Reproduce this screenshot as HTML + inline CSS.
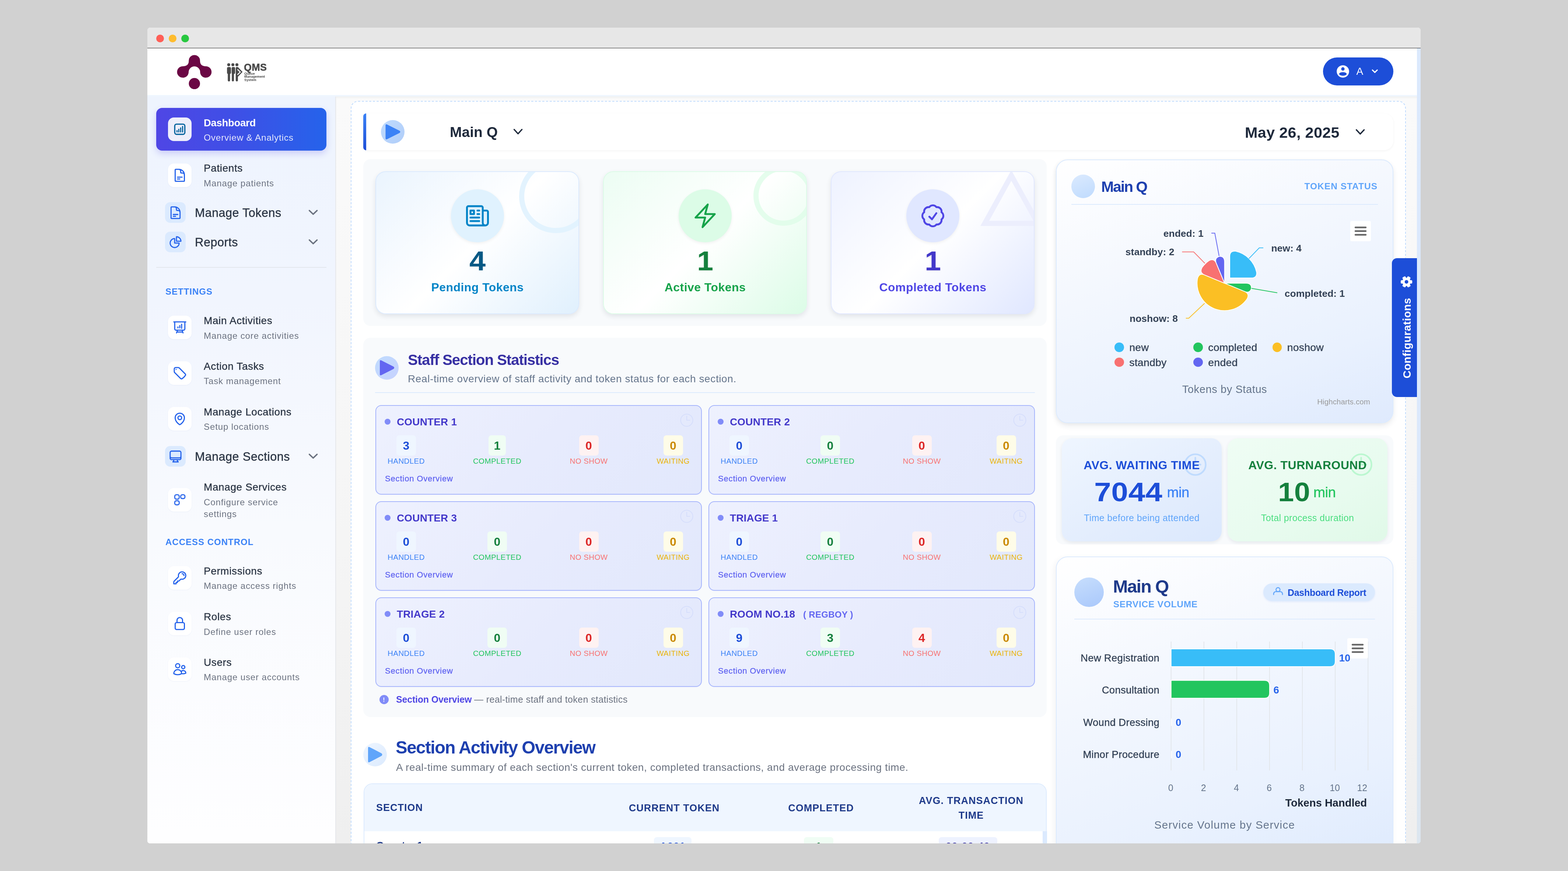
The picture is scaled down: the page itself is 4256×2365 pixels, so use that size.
<!DOCTYPE html>
<html><head><meta charset="utf-8"><title>QMS Dashboard</title>
<style>
html,body{margin:0;padding:0;}
body{width:4256px;height:2365px;overflow:hidden;background:#d1d1d1;position:relative;font-family:"Liberation Sans", Arial, sans-serif;}
.a{position:absolute;}
.t{position:absolute;white-space:nowrap;}
#clip{position:absolute;left:400px;top:75px;width:3456px;height:2215px;overflow:hidden;border-radius:7px;}
#inner{position:absolute;left:-400px;top:-75px;width:4256px;height:2365px;}
</style></head><body>
<div id="clip"><div id="inner">
<div class="a" style="left:400px;top:75px;width:3456px;height:2215px;background:#fff;border-radius:7px;overflow:hidden;"></div>
<div class="a" style="left:400px;top:75px;width:3456px;height:54px;background:#e7e7e7;border-radius:7px 7px 0 0;"></div>
<div class="a" style="left:400px;top:129px;width:3456px;height:1px;background:#f4f4f4;"></div>
<div class="a" style="left:400px;top:130px;width:3456px;height:1px;background:#0a0a0a;"></div>
<div class="a" style="left:424.1px;top:93.5px;width:21px;height:21px;background:#ff5f57;border-radius:50%;"></div>
<div class="a" style="left:458.2px;top:93.5px;width:21px;height:21px;background:#febc2e;border-radius:50%;"></div>
<div class="a" style="left:492.2px;top:93.5px;width:21px;height:21px;background:#28c840;border-radius:50%;"></div>
<svg class="a" style="left:470px;top:140px;" width="110" height="105" viewBox="470 140 110 105"><g fill="#6b0744"><circle cx="527.7" cy="164.6" r="15.2"/><circle cx="496" cy="195.4" r="15.4"/><circle cx="558.8" cy="195.4" r="15.4"/><circle cx="527.7" cy="226.9" r="15.2"/><path d="M512.5 164.6 C512.5 176 506 180 496 180 L496 210.8 C505 210.8 511.5 205 512 196 A15.6 15.6 0 0 1 543.4 196 C544 205 550 210.8 558.8 210.8 L558.8 180 C549 180 542.9 176 542.9 164.6 Z"/></g></svg>
<svg class="a" style="left:612px;top:168px;" width="50" height="58" viewBox="612 168 50 58"><g fill="#4a4a4a"><circle cx="620.8" cy="175.8" r="4.1"/><circle cx="632.1" cy="175.8" r="4.1"/><circle cx="643" cy="175.8" r="4.1"/><rect x="616.2" y="181.9" width="10.7" height="19" rx="3.6"/><rect x="618.3" y="196" width="6.2" height="25" rx="3.1"/><rect x="628.7" y="181.9" width="9.4" height="19" rx="3.4"/><rect x="629.2" y="196" width="5.8" height="25" rx="2.9"/><rect x="639.8" y="181.9" width="6" height="39.1" rx="3"/><path d="M641 181.9 h4.8 l12.5 13.3 l-12.5 13.2 h-4.8 z"/></g><path d="M644.6 188.4 l7.6 7.2 l-7.6 7.4" fill="none" stroke="#fff" stroke-width="2.6"/></svg>
<div class="t" style="left:662.0px;top:170.3px;font-size:27px;line-height:27px;color:#4a4a4a;font-weight:700;letter-spacing:0.3px;-webkit-text-stroke:0.6px #4a4a4a;">QMS</div>
<div class="t" style="left:663.0px;top:195.6px;font-size:9.2px;line-height:9.2px;color:#4a4a4a;font-weight:700;">Queue</div>
<div class="t" style="left:663.0px;top:204.2px;font-size:9.2px;line-height:9.2px;color:#4a4a4a;font-weight:700;">Management</div>
<div class="t" style="left:663.0px;top:212.8px;font-size:9.2px;line-height:9.2px;color:#4a4a4a;font-weight:700;">System</div>
<div class="a" style="left:3591px;top:156px;width:191px;height:76px;background:#1d4ed8;border-radius:38px;"></div>
<svg class="a" style="left:3625px;top:174px;" width="40" height="40" viewBox="3625 174 40 40"><circle cx="3645" cy="194" r="16.8" fill="#fff"/><circle cx="3645" cy="187.2" r="4.6" fill="#1d4ed8"/><ellipse cx="3645" cy="200.8" rx="10.2" ry="4.9" fill="#1d4ed8"/></svg>
<div class="t" style="left:3681.5px;top:180.3px;font-size:28px;line-height:28px;color:#fff;font-weight:400;">A</div>
<svg class="a" style="left:3722.3px;top:187.3px;" width="19.4" height="12.700000000000012" viewBox="3722.3 187.3 19.4 12.700000000000012"><polyline points="3725.5,190.5 3732.0,196.8 3738.5,190.5" fill="none" stroke="#fff" stroke-width="3.2" stroke-linecap="round" stroke-linejoin="round"/></svg>
<div class="a" style="left:400px;top:258px;width:510px;height:2032px;background:linear-gradient(180deg,#eef4fe 0%,#f1f5fe 27%,#f8fafe 58%,#fefeff 100%);"></div>
<div class="a" style="left:910px;top:261px;width:2px;height:2029px;background:#e6e8ec;"></div>
<div class="a" style="left:400px;top:258px;width:3446px;height:4px;background:#eff6ff;"></div>
<div class="a" style="left:424px;top:293px;width:462px;height:116px;background:linear-gradient(90deg,#4f46e5 0%,#3f4fe6 45%,#2563eb 100%);border-radius:16px;box-shadow:0 8px 18px rgba(79,70,229,0.22);"></div>
<div class="a" style="left:456px;top:319px;width:64px;height:64px;background:#eeeefb;border-radius:16px;"></div>
<svg class="a" style="left:468px;top:331px;" width="40" height="40" viewBox="468 331 40 40"><rect x="474.3" y="337.1" width="27.4" height="27.7" rx="5" fill="none" stroke="#0b66a0" stroke-width="3.4"/><g stroke="#0b66a0" stroke-width="3.1" stroke-linecap="round"><line x1="480.5" y1="354.5" x2="480.5" y2="358.2"/><line x1="485.3" y1="351" x2="485.3" y2="358.2"/><line x1="490.4" y1="347.3" x2="490.4" y2="358.2"/><line x1="495.6" y1="343.4" x2="495.6" y2="358.2"/></g></svg>
<div class="t" style="left:553.0px;top:319.7px;font-size:27.5px;line-height:27.5px;color:#ffffff;font-weight:700;letter-spacing:-0.3px;">Dashboard</div>
<div class="t" style="left:553.0px;top:361.7px;font-size:24.5px;line-height:24.5px;color:rgba(255,255,255,0.86);font-weight:400;letter-spacing:0.75px;">Overview &amp; Analytics</div>
<div class="a" style="left:456px;top:443.6px;width:64px;height:64px;background:#fff;border-radius:16px;box-shadow:0 1px 3px rgba(30,64,175,0.06);"></div>
<svg class="a" style="left:468.0px;top:455.6px" width="40" height="40" viewBox="0 0 24 24" fill="none" stroke="#2563eb" stroke-width="1.85" stroke-linecap="round" stroke-linejoin="round"><path d="M19.5 14.25v-2.625a3.375 3.375 0 0 0-3.375-3.375h-1.5A1.125 1.125 0 0 1 13.5 7.125v-1.5a3.375 3.375 0 0 0-3.375-3.375H8.25m0 12.75h7.5m-7.5 3H12M10.5 2.25H5.625c-.621 0-1.125.504-1.125 1.125v17.25c0 .621.504 1.125 1.125 1.125h12.75c.621 0 1.125-.504 1.125-1.125V11.25a9 9 0 0 0-9-9Z"/></svg>
<div class="t" style="left:553.0px;top:443.4px;font-size:28px;line-height:28px;color:#2b3544;font-weight:400;letter-spacing:0.6px;-webkit-text-stroke:0.45px currentColor;">Patients</div>
<div class="t" style="left:553.0px;top:486.0px;font-size:24px;line-height:24px;color:#6b7280;font-weight:400;letter-spacing:0.9px;">Manage patients</div>
<div class="a" style="left:448px;top:549px;width:56px;height:56px;background:#dbeafe;border-radius:14px;"></div>
<svg class="a" style="left:456.5px;top:557.5px" width="39" height="39" viewBox="0 0 24 24" fill="none" stroke="#2563eb" stroke-width="1.85" stroke-linecap="round" stroke-linejoin="round"><path d="M19.5 14.25v-2.625a3.375 3.375 0 0 0-3.375-3.375h-1.5A1.125 1.125 0 0 1 13.5 7.125v-1.5a3.375 3.375 0 0 0-3.375-3.375H8.25m0 12.75h7.5m-7.5 3H12M10.5 2.25H5.625c-.621 0-1.125.504-1.125 1.125v17.25c0 .621.504 1.125 1.125 1.125h12.75c.621 0 1.125-.504 1.125-1.125V11.25a9 9 0 0 0-9-9Z"/></svg>
<div class="t" style="left:529.0px;top:562.1px;font-size:32.5px;line-height:32.5px;color:#2b3544;font-weight:400;letter-spacing:0.45px;-webkit-text-stroke:0.45px currentColor;">Manage Tokens</div>
<svg class="a" style="left:835.9px;top:568.4px;" width="28.2" height="17.2" viewBox="835.9 568.4 28.2 17.2"><polyline points="839.5,572 850.0,582 860.5,572" fill="none" stroke="#6b7280" stroke-width="3.6" stroke-linecap="round" stroke-linejoin="round"/></svg>
<div class="a" style="left:448px;top:629px;width:56px;height:56px;background:#dbeafe;border-radius:14px;"></div>
<svg class="a" style="left:456.5px;top:637.5px" width="39" height="39" viewBox="0 0 24 24" fill="none" stroke="#2563eb" stroke-width="1.85" stroke-linecap="round" stroke-linejoin="round"><path d="M10.5 6a7.5 7.5 0 1 0 7.5 7.5h-7.5V6Z"/><path d="M13.5 10.5H21A7.5 7.5 0 0 0 13.5 3v7.5Z"/></svg>
<div class="t" style="left:529.0px;top:642.1px;font-size:32.5px;line-height:32.5px;color:#2b3544;font-weight:400;letter-spacing:0.45px;-webkit-text-stroke:0.45px currentColor;">Reports</div>
<svg class="a" style="left:835.9px;top:648.4px;" width="28.2" height="17.2" viewBox="835.9 648.4 28.2 17.2"><polyline points="839.5,652 850.0,662 860.5,652" fill="none" stroke="#6b7280" stroke-width="3.6" stroke-linecap="round" stroke-linejoin="round"/></svg>
<div class="a" style="left:424px;top:725px;width:462px;height:2px;background:#e2e6ec;"></div>
<div class="t" style="left:449.0px;top:780.2px;font-size:24px;line-height:24px;color:#3b82f6;font-weight:700;letter-spacing:1.0px;">SETTINGS</div>
<div class="a" style="left:456px;top:857.4px;width:64px;height:64px;background:#fff;border-radius:16px;box-shadow:0 1px 3px rgba(30,64,175,0.06);"></div>
<svg class="a" style="left:468.0px;top:869.4px" width="40" height="40" viewBox="0 0 24 24" fill="none" stroke="#2563eb" stroke-width="1.85" stroke-linecap="round" stroke-linejoin="round"><path d="M3.75 3v11.25A2.25 2.25 0 0 0 6 16.5h2.25M3.75 3h-1.5m1.5 0h16.5m0 0h1.5m-1.5 0v11.25A2.25 2.25 0 0 1 18 16.5h-2.25m-7.5 0h7.5m-7.5 0-1 3m8.5-3 1 3m0 0 .5 1.5m-.5-1.5h-9.5m0 0-.5 1.5M9 11.25v1.5M12 9v3.75m3-6v6.75"/></svg>
<div class="t" style="left:553.0px;top:857.2px;font-size:28px;line-height:28px;color:#2b3544;font-weight:400;letter-spacing:0.6px;-webkit-text-stroke:0.45px currentColor;">Main Activities</div>
<div class="t" style="left:553.0px;top:899.8px;font-size:24px;line-height:24px;color:#6b7280;font-weight:400;letter-spacing:0.9px;">Manage core activities</div>
<div class="a" style="left:456px;top:981px;width:64px;height:64px;background:#fff;border-radius:16px;box-shadow:0 1px 3px rgba(30,64,175,0.06);"></div>
<svg class="a" style="left:468.0px;top:993.0px" width="40" height="40" viewBox="0 0 24 24" fill="none" stroke="#2563eb" stroke-width="1.85" stroke-linecap="round" stroke-linejoin="round"><path d="M9.568 3H5.25A2.25 2.25 0 0 0 3 5.25v4.318c0 .597.237 1.17.659 1.591l9.581 9.581c.699.699 1.78.872 2.607.33a18.095 18.095 0 0 0 5.223-5.223c.542-.827.369-1.908-.33-2.607L11.16 3.66A2.25 2.25 0 0 0 9.568 3Z"/><path d="M6 6h.008v.008H6V6Z"/></svg>
<div class="t" style="left:553.0px;top:980.8px;font-size:28px;line-height:28px;color:#2b3544;font-weight:400;letter-spacing:0.6px;-webkit-text-stroke:0.45px currentColor;">Action Tasks</div>
<div class="t" style="left:553.0px;top:1023.4px;font-size:24px;line-height:24px;color:#6b7280;font-weight:400;letter-spacing:0.9px;">Task management</div>
<div class="a" style="left:456px;top:1105px;width:64px;height:64px;background:#fff;border-radius:16px;box-shadow:0 1px 3px rgba(30,64,175,0.06);"></div>
<svg class="a" style="left:468.0px;top:1117.0px" width="40" height="40" viewBox="0 0 24 24" fill="none" stroke="#2563eb" stroke-width="1.85" stroke-linecap="round" stroke-linejoin="round"><path d="M15 10.5a3 3 0 1 1-6 0 3 3 0 0 1 6 0Z"/><path d="M19.5 10.5c0 7.142-7.5 11.25-7.5 11.25S4.5 17.642 4.5 10.5a7.5 7.5 0 1 1 15 0Z"/></svg>
<div class="t" style="left:553.0px;top:1104.8px;font-size:28px;line-height:28px;color:#2b3544;font-weight:400;letter-spacing:0.6px;-webkit-text-stroke:0.45px currentColor;">Manage Locations</div>
<div class="t" style="left:553.0px;top:1147.4px;font-size:24px;line-height:24px;color:#6b7280;font-weight:400;letter-spacing:0.9px;">Setup locations</div>
<div class="a" style="left:448px;top:1211px;width:56px;height:56px;background:#dbeafe;border-radius:14px;"></div>
<svg class="a" style="left:456.5px;top:1219.5px" width="39" height="39" viewBox="0 0 24 24" fill="none" stroke="#2563eb" stroke-width="1.85" stroke-linecap="round" stroke-linejoin="round"><path d="M9 17.25v1.007a3 3 0 0 1-.879 2.122L7.5 21h9l-.621-.621A3 3 0 0 1 15 18.257V17.25m6-12V15a2.25 2.25 0 0 1-2.25 2.25H5.25A2.25 2.25 0 0 1 3 15V5.25m18 0A2.25 2.25 0 0 0 18.75 3H5.25A2.25 2.25 0 0 0 3 5.25m18 0V12a2.25 2.25 0 0 1-2.25 2.25H5.25A2.25 2.25 0 0 1 3 12V5.25"/></svg>
<div class="t" style="left:529.0px;top:1224.1px;font-size:32.5px;line-height:32.5px;color:#2b3544;font-weight:400;letter-spacing:0.45px;-webkit-text-stroke:0.45px currentColor;">Manage Sections</div>
<svg class="a" style="left:835.9px;top:1230.4px;" width="28.2" height="17.2" viewBox="835.9 1230.4 28.2 17.2"><polyline points="839.5,1234 850.0,1244 860.5,1234" fill="none" stroke="#6b7280" stroke-width="3.6" stroke-linecap="round" stroke-linejoin="round"/></svg>
<div class="a" style="left:456px;top:1325px;width:64px;height:64px;background:#fff;border-radius:16px;box-shadow:0 1px 3px rgba(30,64,175,0.06);"></div>
<svg class="a" style="left:466px;top:1335px;" width="44" height="44" viewBox="466 1335 44 44"><g fill="none" stroke="#2563eb" stroke-width="2.9"><rect x="474.4" y="1343.4" width="11.9" height="11.9" rx="4"/><rect x="490.6" y="1343.4" width="11.3" height="10.4" rx="4"/><rect x="474.4" y="1359.7" width="11.9" height="11" rx="4"/></g></svg>
<div class="t" style="left:553.0px;top:1309.1px;font-size:28px;line-height:28px;color:#2b3544;font-weight:400;letter-spacing:0.6px;-webkit-text-stroke:0.45px currentColor;">Manage Services</div>
<div class="t" style="left:553.0px;top:1351.7px;font-size:24px;line-height:24px;color:#6b7280;font-weight:400;letter-spacing:0.9px;">Configure service</div>
<div class="t" style="left:553.0px;top:1384.1px;font-size:24px;line-height:24px;color:#6b7280;font-weight:400;letter-spacing:0.9px;">settings</div>
<div class="t" style="left:449.0px;top:1460.1px;font-size:24px;line-height:24px;color:#3b82f6;font-weight:700;letter-spacing:1.0px;">ACCESS CONTROL</div>
<div class="a" style="left:456px;top:1537px;width:64px;height:64px;background:#fff;border-radius:16px;box-shadow:0 1px 3px rgba(30,64,175,0.06);"></div>
<svg class="a" style="left:468.0px;top:1549.0px" width="40" height="40" viewBox="0 0 24 24" fill="none" stroke="#2563eb" stroke-width="1.85" stroke-linecap="round" stroke-linejoin="round"><path d="M15.75 5.25a3 3 0 0 1 3 3m3 0a6 6 0 0 1-7.029 5.912c-.563-.097-1.159.026-1.563.43L10.5 17.25H8.25v2.25H6v2.25H2.25v-2.818c0-.597.237-1.17.659-1.591l6.499-6.499c.404-.404.527-1 .43-1.563A6 6 0 1 1 21.75 8.25Z"/></svg>
<div class="t" style="left:553.0px;top:1536.8px;font-size:28px;line-height:28px;color:#2b3544;font-weight:400;letter-spacing:0.6px;-webkit-text-stroke:0.45px currentColor;">Permissions</div>
<div class="t" style="left:553.0px;top:1579.4px;font-size:24px;line-height:24px;color:#6b7280;font-weight:400;letter-spacing:0.9px;">Manage access rights</div>
<div class="a" style="left:456px;top:1661.4px;width:64px;height:64px;background:#fff;border-radius:16px;box-shadow:0 1px 3px rgba(30,64,175,0.06);"></div>
<svg class="a" style="left:468.0px;top:1673.4px" width="40" height="40" viewBox="0 0 24 24" fill="none" stroke="#2563eb" stroke-width="1.85" stroke-linecap="round" stroke-linejoin="round"><path d="M16.5 10.5V6.75a4.5 4.5 0 1 0-9 0v3.75m-.75 11.25h10.5a2.25 2.25 0 0 0 2.25-2.25v-6.75a2.25 2.25 0 0 0-2.25-2.25H6.75a2.25 2.25 0 0 0-2.25 2.25v6.75a2.25 2.25 0 0 0 2.25 2.25Z"/></svg>
<div class="t" style="left:553.0px;top:1661.2px;font-size:28px;line-height:28px;color:#2b3544;font-weight:400;letter-spacing:0.6px;-webkit-text-stroke:0.45px currentColor;">Roles</div>
<div class="t" style="left:553.0px;top:1703.8px;font-size:24px;line-height:24px;color:#6b7280;font-weight:400;letter-spacing:0.9px;">Define user roles</div>
<div class="a" style="left:456px;top:1785px;width:64px;height:64px;background:#fff;border-radius:16px;box-shadow:0 1px 3px rgba(30,64,175,0.06);"></div>
<svg class="a" style="left:468.0px;top:1797.0px" width="40" height="40" viewBox="0 0 24 24" fill="none" stroke="#2563eb" stroke-width="1.85" stroke-linecap="round" stroke-linejoin="round"><path d="M15 19.128a9.38 9.38 0 0 0 2.625.372 9.337 9.337 0 0 0 4.121-.952 4.125 4.125 0 0 0-7.533-2.493M15 19.128v-.003c0-1.113-.285-2.16-.786-3.07M15 19.128v.106A12.318 12.318 0 0 1 8.624 21c-2.331 0-4.512-.645-6.374-1.766l-.001-.109a6.375 6.375 0 0 1 11.964-3.07M12 6.375a3.375 3.375 0 1 1-6.75 0 3.375 3.375 0 0 1 6.75 0Zm8.25 2.25a2.625 2.625 0 1 1-5.25 0 2.625 2.625 0 0 1 5.25 0Z"/></svg>
<div class="t" style="left:553.0px;top:1784.8px;font-size:28px;line-height:28px;color:#2b3544;font-weight:400;letter-spacing:0.6px;-webkit-text-stroke:0.45px currentColor;">Users</div>
<div class="t" style="left:553.0px;top:1827.4px;font-size:24px;line-height:24px;color:#6b7280;font-weight:400;letter-spacing:0.9px;">Manage user accounts</div>
<div class="a" style="left:912px;top:262px;width:2934px;height:2028px;background:linear-gradient(180deg,#fafafa 0%,#f5f5f5 60%,#efefef 100%);box-shadow:inset 0 5px 6px -3px rgba(0,0,0,0.06);"></div>
<div class="a" style="left:3846px;top:131px;width:10px;height:2159px;background:linear-gradient(180deg,#dbe9fd 0%,#dbe8fb 70%,#dce6ef 100%);"></div>
<div class="a" style="left:952px;top:274px;width:2864px;height:2100px;background:#fff;border:2px dashed #bfdbfe;border-radius:20px;box-sizing:border-box;"></div>
<div class="a" style="left:986px;top:308px;width:2796px;height:100px;border-radius:10px 26px 26px 10px;background:#fff;box-shadow:0 2px 6px rgba(0,0,0,0.05);"></div>
<div class="a" style="left:986px;top:308px;width:8px;height:100px;border-radius:8px 0 0 8px;background:linear-gradient(180deg,#3b82f6,#1d4ed8);"></div>
<div class="a" style="left:1034px;top:326px;width:64px;height:64px;border-radius:50%;background:linear-gradient(135deg,#bfdbfe,#b0cdf9);"></div>
<svg class="a" style="left:1040px;top:330px;" width="55" height="55" viewBox="1040 330 55 55"><path d="M1046.5 341 Q1046.5 336 1051 338.3 L1084.5 355 Q1088.5 358 1084.5 361 L1051 377.7 Q1046.5 380 1046.5 375 Z" fill="#3b82f6"/></svg>
<div class="t" style="left:1221.0px;top:338.5px;font-size:39px;line-height:39px;color:#1e293b;font-weight:700;">Main Q</div>
<svg class="a" style="left:1391.9px;top:348.4px;" width="28.2" height="18.7" viewBox="1391.9 348.4 28.2 18.7"><polyline points="1395.5,352 1406.0,363.5 1416.5,352" fill="none" stroke="#1e293b" stroke-width="3.6" stroke-linecap="round" stroke-linejoin="round"/></svg>
<div class="t" style="left:3379.0px;top:339.7px;font-size:40px;line-height:40px;color:#1e293b;font-weight:700;letter-spacing:0.3px;transform:scaleX(1.035);transform-origin:0 0;">May 26, 2025</div>
<svg class="a" style="left:3677.9px;top:348.7px;" width="28.2" height="18.399999999999988" viewBox="3677.9 348.7 28.2 18.399999999999988"><polyline points="3681.5,352.3 3692.0,363.5 3702.5,352.3" fill="none" stroke="#1e293b" stroke-width="3.6" stroke-linecap="round" stroke-linejoin="round"/></svg>
<div class="a" style="left:986px;top:432px;width:1855px;height:453px;background:#f8fafc;border-radius:20px;"></div>
<div class="a" style="left:1019px;top:464.5px;width:553px;height:388.5px;border:2px solid #dbeafe;border-radius:28px;background:linear-gradient(135deg,#eaf4fe 0%,#ffffff 50%,#e0f0fd 100%);box-sizing:border-box;overflow:hidden;box-shadow:0 6px 14px rgba(30,41,59,0.10);"><div class="a" style="left:387.5px;top:-33.80000000000001px;width:200px;height:200px;border-radius:50%;border:14px solid rgba(224,242,254,0.9);box-sizing:border-box;"></div></div>
<div class="a" style="left:1224px;top:514px;width:144px;height:144px;border-radius:50%;background:#e0f2fe;box-shadow:0 3px 8px rgba(0,0,0,0.06);"></div>
<svg class="a" style="left:1258.0px;top:548.0px" width="76" height="76" viewBox="0 0 24 24" fill="none" stroke="#0284c7" stroke-width="1.6" stroke-linecap="round" stroke-linejoin="round"><path d="M12 7.5h1.5m-1.5 3h1.5m-7.5 3h7.5m-7.5 3h7.5m3-9h3.375c.621 0 1.125.504 1.125 1.125V18a2.25 2.25 0 0 1-2.25 2.25M16.5 7.5V18a2.25 2.25 0 0 0 2.25 2.25M16.5 7.5V4.875c0-.621-.504-1.125-1.125-1.125H4.125C3.504 3.75 3 4.254 3 4.875V18a2.25 2.25 0 0 0 2.25 2.25h13.5M6 7.5h3v3H6v-3Z"/></svg>
<div class="t" style="left:1296.0px;top:672.0px;font-size:73.5px;line-height:73.5px;color:#075985;font-weight:700;transform:translateX(-50%);transform:translateX(-50%) scaleX(1.08);text-shadow:0 2px 4px rgba(0,0,0,0.08);">4</div>
<div class="t" style="left:1296.0px;top:763.5px;font-size:32px;line-height:32px;color:#0284c7;font-weight:700;letter-spacing:0.45px;transform:translateX(-50%);">Pending Tokens</div>
<div class="a" style="left:1637px;top:464.5px;width:553px;height:388.5px;border:2px solid #dcfce7;border-radius:28px;background:linear-gradient(135deg,#ecfdf3 0%,#ffffff 50%,#dcfce7 100%);box-sizing:border-box;overflow:hidden;box-shadow:0 6px 14px rgba(30,41,59,0.10);"><div class="a" style="left:406.29999999999995px;top:-17.0px;width:163px;height:163px;border-radius:50%;border:14px solid rgba(220,252,231,0.75);box-sizing:border-box;"></div></div>
<div class="a" style="left:1842px;top:514px;width:144px;height:144px;border-radius:50%;background:#dcfce7;box-shadow:0 3px 8px rgba(0,0,0,0.06);"></div>
<svg class="a" style="left:1876.0px;top:548.0px" width="76" height="76" viewBox="0 0 24 24" fill="none" stroke="#16a34a" stroke-width="1.6" stroke-linecap="round" stroke-linejoin="round"><path d="m3.75 13.5 10.5-11.25L12 10.5h8.25L9.75 21.75 12 13.5H3.75Z"/></svg>
<div class="t" style="left:1914.0px;top:672.0px;font-size:73.5px;line-height:73.5px;color:#15803d;font-weight:700;transform:translateX(-50%);transform:translateX(-50%) scaleX(1.08);text-shadow:0 2px 4px rgba(0,0,0,0.08);">1</div>
<div class="t" style="left:1914.0px;top:763.5px;font-size:32px;line-height:32px;color:#16a34a;font-weight:700;letter-spacing:0.45px;transform:translateX(-50%);">Active Tokens</div>
<div class="a" style="left:2255px;top:464.5px;width:553px;height:388.5px;border:2px solid #e0e7ff;border-radius:28px;background:linear-gradient(135deg,#eef2ff 0%,#ffffff 50%,#e0e7ff 100%);box-sizing:border-box;overflow:hidden;box-shadow:0 6px 14px rgba(30,41,59,0.10);"><svg class="a" style="left:0;top:0" width="553" height="389" viewBox="2255 464.5 553 389"><path d="M2743 474 L2815 604 L2671 604 Z" fill="none" stroke="#eceefd" stroke-width="14" stroke-linejoin="miter"/></svg></div>
<div class="a" style="left:2460px;top:514px;width:144px;height:144px;border-radius:50%;background:#e0e7ff;box-shadow:0 3px 8px rgba(0,0,0,0.06);"></div>
<svg class="a" style="left:2494.0px;top:548.0px" width="76" height="76" viewBox="0 0 24 24" fill="none" stroke="#4f46e5" stroke-width="1.6" stroke-linecap="round" stroke-linejoin="round"><path d="M9 12.75 11.25 15 15 9.75M21 12c0 1.268-.63 2.39-1.593 3.068a3.745 3.745 0 0 1-1.043 3.296 3.745 3.745 0 0 1-3.296 1.043A3.745 3.745 0 0 1 12 21c-1.268 0-2.39-.63-3.068-1.593a3.746 3.746 0 0 1-3.296-1.043 3.745 3.745 0 0 1-1.043-3.296A3.745 3.745 0 0 1 3 12c0-1.268.63-2.39 1.593-3.068a3.745 3.745 0 0 1 1.043-3.296 3.746 3.746 0 0 1 3.296-1.043A3.746 3.746 0 0 1 12 3c1.268 0 2.39.63 3.068 1.593a3.746 3.746 0 0 1 3.296 1.043 3.746 3.746 0 0 1 1.043 3.296A3.745 3.745 0 0 1 21 12Z"/></svg>
<div class="t" style="left:2532.0px;top:672.0px;font-size:73.5px;line-height:73.5px;color:#4338ca;font-weight:700;transform:translateX(-50%);transform:translateX(-50%) scaleX(1.08);text-shadow:0 2px 4px rgba(0,0,0,0.08);">1</div>
<div class="t" style="left:2532.0px;top:763.5px;font-size:32px;line-height:32px;color:#4f46e5;font-weight:700;letter-spacing:0.45px;transform:translateX(-50%);">Completed Tokens</div>
<div class="a" style="left:986px;top:917px;width:1855px;height:1030px;background:#f8fafc;border-radius:20px;"></div>
<div class="a" style="left:1018px;top:966.6px;width:64px;height:64px;border-radius:50%;background:linear-gradient(135deg,#bfdbfe,#c7d2fe);"></div>
<svg class="a" style="left:1025px;top:970px;" width="55" height="55" viewBox="1025 970 55 55"><path d="M1031 981 Q1031 976.5 1035.3 978.7 L1068.3 995.5 Q1072 998.6 1068.3 1001.7 L1035.3 1018.5 Q1031 1020.7 1031 1016 Z" fill="#6366f1"/></svg>
<div class="t" style="left:1107.0px;top:957.4px;font-size:40.5px;line-height:40.5px;color:#3730a3;font-weight:700;letter-spacing:-1.2px;">Staff Section Statistics</div>
<div class="t" style="left:1107.0px;top:1015.3px;font-size:28px;line-height:28px;color:#64748b;font-weight:400;letter-spacing:0.6px;">Real-time overview of staff activity and token status for each section.</div>
<div class="a" style="left:1018px;top:1065px;width:1791px;height:2px;background:#dbeafe;"></div>
<div class="a" style="left:1019px;top:1100px;width:886px;height:243px;border:2px solid #a5b4fc;border-radius:16px;box-sizing:border-box;background:linear-gradient(135deg,#eef1fe 0%,#e7ebfd 50%,#e2e8fc 100%);box-shadow:0 1px 3px rgba(99,102,241,0.08);"></div>
<div class="a" style="left:1044px;top:1137px;width:16px;height:16px;border-radius:50%;background:#818cf8;"></div>
<div class="t" style="left:1077.0px;top:1131.6px;font-size:28px;line-height:28px;color:#4338ca;font-weight:700;letter-spacing:0.15px;">COUNTER 1</div>
<svg class="a" style="left:1842.0px;top:1119.0px" width="44" height="44" viewBox="0 0 24 24" fill="none" stroke="rgba(165,180,252,0.22)" stroke-width="1.2" stroke-linecap="round" stroke-linejoin="round"><path d="M12 6v6h4.5m4.5 0a9 9 0 1 1-18 0 9 9 0 0 1 18 0Z"/></svg>
<div class="a" style="left:1076.0px;top:1181.5px;width:53px;height:55px;background:#eff6ff;border-radius:8px;"></div>
<div class="t" style="left:1102.5px;top:1193.9px;font-size:32px;line-height:32px;color:#1d4ed8;font-weight:700;transform:translateX(-50%);">3</div>
<div class="t" style="left:1102.5px;top:1242.1px;font-size:20.5px;line-height:20.5px;color:#3b82f6;font-weight:400;letter-spacing:0.4px;transform:translateX(-50%);">HANDLED</div>
<div class="a" style="left:1326.0px;top:1181.5px;width:47px;height:55px;background:#f0fdf4;border-radius:8px;"></div>
<div class="t" style="left:1349.5px;top:1193.9px;font-size:32px;line-height:32px;color:#15803d;font-weight:700;transform:translateX(-50%);">1</div>
<div class="t" style="left:1349.5px;top:1242.1px;font-size:20.5px;line-height:20.5px;color:#22c55e;font-weight:400;letter-spacing:0.4px;transform:translateX(-50%);">COMPLETED</div>
<div class="a" style="left:1571.5px;top:1181.5px;width:53px;height:55px;background:#fef2f2;border-radius:8px;"></div>
<div class="t" style="left:1598.0px;top:1193.9px;font-size:32px;line-height:32px;color:#dc2626;font-weight:700;transform:translateX(-50%);">0</div>
<div class="t" style="left:1598.0px;top:1242.1px;font-size:20.5px;line-height:20.5px;color:#f87171;font-weight:400;letter-spacing:0.4px;transform:translateX(-50%);">NO SHOW</div>
<div class="a" style="left:1800.5px;top:1181.5px;width:53px;height:55px;background:#fefce8;border-radius:8px;"></div>
<div class="t" style="left:1827.0px;top:1193.9px;font-size:32px;line-height:32px;color:#ca8a04;font-weight:700;transform:translateX(-50%);">0</div>
<div class="t" style="left:1827.0px;top:1242.1px;font-size:20.5px;line-height:20.5px;color:#eab308;font-weight:400;letter-spacing:0.4px;transform:translateX(-50%);">WAITING</div>
<div class="t" style="left:1045.0px;top:1288.7px;font-size:22px;line-height:22px;color:#6366f1;font-weight:400;letter-spacing:0.85px;-webkit-text-stroke:0.45px currentColor;">Section Overview</div>
<div class="a" style="left:1923px;top:1100px;width:886px;height:243px;border:2px solid #a5b4fc;border-radius:16px;box-sizing:border-box;background:linear-gradient(135deg,#eef1fe 0%,#e7ebfd 50%,#e2e8fc 100%);box-shadow:0 1px 3px rgba(99,102,241,0.08);"></div>
<div class="a" style="left:1948px;top:1137px;width:16px;height:16px;border-radius:50%;background:#818cf8;"></div>
<div class="t" style="left:1981.0px;top:1131.6px;font-size:28px;line-height:28px;color:#4338ca;font-weight:700;letter-spacing:0.15px;">COUNTER 2</div>
<svg class="a" style="left:2746.0px;top:1119.0px" width="44" height="44" viewBox="0 0 24 24" fill="none" stroke="rgba(165,180,252,0.22)" stroke-width="1.2" stroke-linecap="round" stroke-linejoin="round"><path d="M12 6v6h4.5m4.5 0a9 9 0 1 1-18 0 9 9 0 0 1 18 0Z"/></svg>
<div class="a" style="left:1980.0px;top:1181.5px;width:53px;height:55px;background:#eff6ff;border-radius:8px;"></div>
<div class="t" style="left:2006.5px;top:1193.9px;font-size:32px;line-height:32px;color:#1d4ed8;font-weight:700;transform:translateX(-50%);">0</div>
<div class="t" style="left:2006.5px;top:1242.1px;font-size:20.5px;line-height:20.5px;color:#3b82f6;font-weight:400;letter-spacing:0.4px;transform:translateX(-50%);">HANDLED</div>
<div class="a" style="left:2227.0px;top:1181.5px;width:53px;height:55px;background:#f0fdf4;border-radius:8px;"></div>
<div class="t" style="left:2253.5px;top:1193.9px;font-size:32px;line-height:32px;color:#15803d;font-weight:700;transform:translateX(-50%);">0</div>
<div class="t" style="left:2253.5px;top:1242.1px;font-size:20.5px;line-height:20.5px;color:#22c55e;font-weight:400;letter-spacing:0.4px;transform:translateX(-50%);">COMPLETED</div>
<div class="a" style="left:2475.5px;top:1181.5px;width:53px;height:55px;background:#fef2f2;border-radius:8px;"></div>
<div class="t" style="left:2502.0px;top:1193.9px;font-size:32px;line-height:32px;color:#dc2626;font-weight:700;transform:translateX(-50%);">0</div>
<div class="t" style="left:2502.0px;top:1242.1px;font-size:20.5px;line-height:20.5px;color:#f87171;font-weight:400;letter-spacing:0.4px;transform:translateX(-50%);">NO SHOW</div>
<div class="a" style="left:2704.5px;top:1181.5px;width:53px;height:55px;background:#fefce8;border-radius:8px;"></div>
<div class="t" style="left:2731.0px;top:1193.9px;font-size:32px;line-height:32px;color:#ca8a04;font-weight:700;transform:translateX(-50%);">0</div>
<div class="t" style="left:2731.0px;top:1242.1px;font-size:20.5px;line-height:20.5px;color:#eab308;font-weight:400;letter-spacing:0.4px;transform:translateX(-50%);">WAITING</div>
<div class="t" style="left:1949.0px;top:1288.7px;font-size:22px;line-height:22px;color:#6366f1;font-weight:400;letter-spacing:0.85px;-webkit-text-stroke:0.45px currentColor;">Section Overview</div>
<div class="a" style="left:1019px;top:1361px;width:886px;height:243px;border:2px solid #a5b4fc;border-radius:16px;box-sizing:border-box;background:linear-gradient(135deg,#eef1fe 0%,#e7ebfd 50%,#e2e8fc 100%);box-shadow:0 1px 3px rgba(99,102,241,0.08);"></div>
<div class="a" style="left:1044px;top:1398px;width:16px;height:16px;border-radius:50%;background:#818cf8;"></div>
<div class="t" style="left:1077.0px;top:1392.6px;font-size:28px;line-height:28px;color:#4338ca;font-weight:700;letter-spacing:0.15px;">COUNTER 3</div>
<svg class="a" style="left:1842.0px;top:1380.0px" width="44" height="44" viewBox="0 0 24 24" fill="none" stroke="rgba(165,180,252,0.22)" stroke-width="1.2" stroke-linecap="round" stroke-linejoin="round"><path d="M12 6v6h4.5m4.5 0a9 9 0 1 1-18 0 9 9 0 0 1 18 0Z"/></svg>
<div class="a" style="left:1076.0px;top:1442.5px;width:53px;height:55px;background:#eff6ff;border-radius:8px;"></div>
<div class="t" style="left:1102.5px;top:1454.9px;font-size:32px;line-height:32px;color:#1d4ed8;font-weight:700;transform:translateX(-50%);">0</div>
<div class="t" style="left:1102.5px;top:1503.1px;font-size:20.5px;line-height:20.5px;color:#3b82f6;font-weight:400;letter-spacing:0.4px;transform:translateX(-50%);">HANDLED</div>
<div class="a" style="left:1323.0px;top:1442.5px;width:53px;height:55px;background:#f0fdf4;border-radius:8px;"></div>
<div class="t" style="left:1349.5px;top:1454.9px;font-size:32px;line-height:32px;color:#15803d;font-weight:700;transform:translateX(-50%);">0</div>
<div class="t" style="left:1349.5px;top:1503.1px;font-size:20.5px;line-height:20.5px;color:#22c55e;font-weight:400;letter-spacing:0.4px;transform:translateX(-50%);">COMPLETED</div>
<div class="a" style="left:1571.5px;top:1442.5px;width:53px;height:55px;background:#fef2f2;border-radius:8px;"></div>
<div class="t" style="left:1598.0px;top:1454.9px;font-size:32px;line-height:32px;color:#dc2626;font-weight:700;transform:translateX(-50%);">0</div>
<div class="t" style="left:1598.0px;top:1503.1px;font-size:20.5px;line-height:20.5px;color:#f87171;font-weight:400;letter-spacing:0.4px;transform:translateX(-50%);">NO SHOW</div>
<div class="a" style="left:1800.5px;top:1442.5px;width:53px;height:55px;background:#fefce8;border-radius:8px;"></div>
<div class="t" style="left:1827.0px;top:1454.9px;font-size:32px;line-height:32px;color:#ca8a04;font-weight:700;transform:translateX(-50%);">0</div>
<div class="t" style="left:1827.0px;top:1503.1px;font-size:20.5px;line-height:20.5px;color:#eab308;font-weight:400;letter-spacing:0.4px;transform:translateX(-50%);">WAITING</div>
<div class="t" style="left:1045.0px;top:1549.7px;font-size:22px;line-height:22px;color:#6366f1;font-weight:400;letter-spacing:0.85px;-webkit-text-stroke:0.45px currentColor;">Section Overview</div>
<div class="a" style="left:1923px;top:1361px;width:886px;height:243px;border:2px solid #a5b4fc;border-radius:16px;box-sizing:border-box;background:linear-gradient(135deg,#eef1fe 0%,#e7ebfd 50%,#e2e8fc 100%);box-shadow:0 1px 3px rgba(99,102,241,0.08);"></div>
<div class="a" style="left:1948px;top:1398px;width:16px;height:16px;border-radius:50%;background:#818cf8;"></div>
<div class="t" style="left:1981.0px;top:1392.6px;font-size:28px;line-height:28px;color:#4338ca;font-weight:700;letter-spacing:0.15px;">TRIAGE 1</div>
<svg class="a" style="left:2746.0px;top:1380.0px" width="44" height="44" viewBox="0 0 24 24" fill="none" stroke="rgba(165,180,252,0.22)" stroke-width="1.2" stroke-linecap="round" stroke-linejoin="round"><path d="M12 6v6h4.5m4.5 0a9 9 0 1 1-18 0 9 9 0 0 1 18 0Z"/></svg>
<div class="a" style="left:1980.0px;top:1442.5px;width:53px;height:55px;background:#eff6ff;border-radius:8px;"></div>
<div class="t" style="left:2006.5px;top:1454.9px;font-size:32px;line-height:32px;color:#1d4ed8;font-weight:700;transform:translateX(-50%);">0</div>
<div class="t" style="left:2006.5px;top:1503.1px;font-size:20.5px;line-height:20.5px;color:#3b82f6;font-weight:400;letter-spacing:0.4px;transform:translateX(-50%);">HANDLED</div>
<div class="a" style="left:2227.0px;top:1442.5px;width:53px;height:55px;background:#f0fdf4;border-radius:8px;"></div>
<div class="t" style="left:2253.5px;top:1454.9px;font-size:32px;line-height:32px;color:#15803d;font-weight:700;transform:translateX(-50%);">0</div>
<div class="t" style="left:2253.5px;top:1503.1px;font-size:20.5px;line-height:20.5px;color:#22c55e;font-weight:400;letter-spacing:0.4px;transform:translateX(-50%);">COMPLETED</div>
<div class="a" style="left:2475.5px;top:1442.5px;width:53px;height:55px;background:#fef2f2;border-radius:8px;"></div>
<div class="t" style="left:2502.0px;top:1454.9px;font-size:32px;line-height:32px;color:#dc2626;font-weight:700;transform:translateX(-50%);">0</div>
<div class="t" style="left:2502.0px;top:1503.1px;font-size:20.5px;line-height:20.5px;color:#f87171;font-weight:400;letter-spacing:0.4px;transform:translateX(-50%);">NO SHOW</div>
<div class="a" style="left:2704.5px;top:1442.5px;width:53px;height:55px;background:#fefce8;border-radius:8px;"></div>
<div class="t" style="left:2731.0px;top:1454.9px;font-size:32px;line-height:32px;color:#ca8a04;font-weight:700;transform:translateX(-50%);">0</div>
<div class="t" style="left:2731.0px;top:1503.1px;font-size:20.5px;line-height:20.5px;color:#eab308;font-weight:400;letter-spacing:0.4px;transform:translateX(-50%);">WAITING</div>
<div class="t" style="left:1949.0px;top:1549.7px;font-size:22px;line-height:22px;color:#6366f1;font-weight:400;letter-spacing:0.85px;-webkit-text-stroke:0.45px currentColor;">Section Overview</div>
<div class="a" style="left:1019px;top:1622px;width:886px;height:243px;border:2px solid #a5b4fc;border-radius:16px;box-sizing:border-box;background:linear-gradient(135deg,#eef1fe 0%,#e7ebfd 50%,#e2e8fc 100%);box-shadow:0 1px 3px rgba(99,102,241,0.08);"></div>
<div class="a" style="left:1044px;top:1659px;width:16px;height:16px;border-radius:50%;background:#818cf8;"></div>
<div class="t" style="left:1077.0px;top:1653.6px;font-size:28px;line-height:28px;color:#4338ca;font-weight:700;letter-spacing:0.15px;">TRIAGE 2</div>
<svg class="a" style="left:1842.0px;top:1641.0px" width="44" height="44" viewBox="0 0 24 24" fill="none" stroke="rgba(165,180,252,0.22)" stroke-width="1.2" stroke-linecap="round" stroke-linejoin="round"><path d="M12 6v6h4.5m4.5 0a9 9 0 1 1-18 0 9 9 0 0 1 18 0Z"/></svg>
<div class="a" style="left:1076.0px;top:1703.5px;width:53px;height:55px;background:#eff6ff;border-radius:8px;"></div>
<div class="t" style="left:1102.5px;top:1715.9px;font-size:32px;line-height:32px;color:#1d4ed8;font-weight:700;transform:translateX(-50%);">0</div>
<div class="t" style="left:1102.5px;top:1764.1px;font-size:20.5px;line-height:20.5px;color:#3b82f6;font-weight:400;letter-spacing:0.4px;transform:translateX(-50%);">HANDLED</div>
<div class="a" style="left:1323.0px;top:1703.5px;width:53px;height:55px;background:#f0fdf4;border-radius:8px;"></div>
<div class="t" style="left:1349.5px;top:1715.9px;font-size:32px;line-height:32px;color:#15803d;font-weight:700;transform:translateX(-50%);">0</div>
<div class="t" style="left:1349.5px;top:1764.1px;font-size:20.5px;line-height:20.5px;color:#22c55e;font-weight:400;letter-spacing:0.4px;transform:translateX(-50%);">COMPLETED</div>
<div class="a" style="left:1571.5px;top:1703.5px;width:53px;height:55px;background:#fef2f2;border-radius:8px;"></div>
<div class="t" style="left:1598.0px;top:1715.9px;font-size:32px;line-height:32px;color:#dc2626;font-weight:700;transform:translateX(-50%);">0</div>
<div class="t" style="left:1598.0px;top:1764.1px;font-size:20.5px;line-height:20.5px;color:#f87171;font-weight:400;letter-spacing:0.4px;transform:translateX(-50%);">NO SHOW</div>
<div class="a" style="left:1800.5px;top:1703.5px;width:53px;height:55px;background:#fefce8;border-radius:8px;"></div>
<div class="t" style="left:1827.0px;top:1715.9px;font-size:32px;line-height:32px;color:#ca8a04;font-weight:700;transform:translateX(-50%);">0</div>
<div class="t" style="left:1827.0px;top:1764.1px;font-size:20.5px;line-height:20.5px;color:#eab308;font-weight:400;letter-spacing:0.4px;transform:translateX(-50%);">WAITING</div>
<div class="t" style="left:1045.0px;top:1810.7px;font-size:22px;line-height:22px;color:#6366f1;font-weight:400;letter-spacing:0.85px;-webkit-text-stroke:0.45px currentColor;">Section Overview</div>
<div class="a" style="left:1923px;top:1622px;width:886px;height:243px;border:2px solid #a5b4fc;border-radius:16px;box-sizing:border-box;background:linear-gradient(135deg,#eef1fe 0%,#e7ebfd 50%,#e2e8fc 100%);box-shadow:0 1px 3px rgba(99,102,241,0.08);"></div>
<div class="a" style="left:1948px;top:1659px;width:16px;height:16px;border-radius:50%;background:#818cf8;"></div>
<div class="t" style="left:1981.0px;top:1653.6px;font-size:28px;line-height:28px;color:#4338ca;font-weight:700;letter-spacing:0.15px;">ROOM NO.18</div>
<div class="t" style="left:2180.0px;top:1657.0px;font-size:24px;line-height:24px;color:#6366f1;font-weight:700;letter-spacing:0.3px;">( REGBOY )</div>
<svg class="a" style="left:2746.0px;top:1641.0px" width="44" height="44" viewBox="0 0 24 24" fill="none" stroke="rgba(165,180,252,0.22)" stroke-width="1.2" stroke-linecap="round" stroke-linejoin="round"><path d="M12 6v6h4.5m4.5 0a9 9 0 1 1-18 0 9 9 0 0 1 18 0Z"/></svg>
<div class="a" style="left:1980.0px;top:1703.5px;width:53px;height:55px;background:#eff6ff;border-radius:8px;"></div>
<div class="t" style="left:2006.5px;top:1715.9px;font-size:32px;line-height:32px;color:#1d4ed8;font-weight:700;transform:translateX(-50%);">9</div>
<div class="t" style="left:2006.5px;top:1764.1px;font-size:20.5px;line-height:20.5px;color:#3b82f6;font-weight:400;letter-spacing:0.4px;transform:translateX(-50%);">HANDLED</div>
<div class="a" style="left:2227.0px;top:1703.5px;width:53px;height:55px;background:#f0fdf4;border-radius:8px;"></div>
<div class="t" style="left:2253.5px;top:1715.9px;font-size:32px;line-height:32px;color:#15803d;font-weight:700;transform:translateX(-50%);">3</div>
<div class="t" style="left:2253.5px;top:1764.1px;font-size:20.5px;line-height:20.5px;color:#22c55e;font-weight:400;letter-spacing:0.4px;transform:translateX(-50%);">COMPLETED</div>
<div class="a" style="left:2475.5px;top:1703.5px;width:53px;height:55px;background:#fef2f2;border-radius:8px;"></div>
<div class="t" style="left:2502.0px;top:1715.9px;font-size:32px;line-height:32px;color:#dc2626;font-weight:700;transform:translateX(-50%);">4</div>
<div class="t" style="left:2502.0px;top:1764.1px;font-size:20.5px;line-height:20.5px;color:#f87171;font-weight:400;letter-spacing:0.4px;transform:translateX(-50%);">NO SHOW</div>
<div class="a" style="left:2704.5px;top:1703.5px;width:53px;height:55px;background:#fefce8;border-radius:8px;"></div>
<div class="t" style="left:2731.0px;top:1715.9px;font-size:32px;line-height:32px;color:#ca8a04;font-weight:700;transform:translateX(-50%);">0</div>
<div class="t" style="left:2731.0px;top:1764.1px;font-size:20.5px;line-height:20.5px;color:#eab308;font-weight:400;letter-spacing:0.4px;transform:translateX(-50%);">WAITING</div>
<div class="t" style="left:1949.0px;top:1810.7px;font-size:22px;line-height:22px;color:#6366f1;font-weight:400;letter-spacing:0.85px;-webkit-text-stroke:0.45px currentColor;">Section Overview</div>
<div class="a" style="left:1029.5px;top:1886.5px;width:25px;height:25px;border-radius:50%;background:#818cf8;"></div>
<div class="t" style="left:1042.0px;top:1892.5px;font-size:16px;line-height:16px;color:#ffffff;font-weight:700;transform:translateX(-50%);">!</div>
<div class="t" style="left:1075.0px;top:1886.5px;font-size:25px;line-height:25px;color:#4f46e5;font-weight:700;letter-spacing:-0.2px;">Section Overview</div>
<div class="t" style="left:1287.0px;top:1886.5px;font-size:25px;line-height:25px;color:#6b7280;font-weight:400;letter-spacing:0.37px;">&#8212; real-time staff and token statistics</div>
<div class="a" style="left:986px;top:2017px;width:64px;height:64px;border-radius:50%;background:linear-gradient(135deg,#eff6ff,#dbeafe);"></div>
<svg class="a" style="left:992px;top:2020px;" width="55" height="58" viewBox="992 2020 55 58"><path d="M999 2031 Q999 2026.5 1003.3 2028.7 L1035.5 2045.5 Q1039.5 2049 1035.5 2052.5 L1003.3 2069.3 Q999 2071.5 999 2067 Z" fill="#60a5fa"/></svg>
<div class="t" style="left:1074.0px;top:2005.6px;font-size:47.5px;line-height:47.5px;color:#1e40af;font-weight:700;letter-spacing:-1.5px;">Section Activity Overview</div>
<div class="t" style="left:1075.0px;top:2069.7px;font-size:28px;line-height:28px;color:#6b7280;font-weight:400;letter-spacing:0.58px;">A real-time summary of each section's current token, completed transactions, and average processing time.</div>
<div class="a" style="left:987px;top:2127px;width:1854px;height:300px;border:2px solid #dbeafe;border-radius:24px;box-sizing:border-box;background:#fff;overflow:hidden;"><div class="a" style="left:0px;top:0px;width:1850px;height:127.5px;background:#eff6ff;"></div></div>
<div class="t" style="left:1021.0px;top:2180.1px;font-size:27px;line-height:27px;color:#1e3a8a;font-weight:700;letter-spacing:1.0px;">SECTION</div>
<div class="t" style="left:1830.0px;top:2180.7px;font-size:27px;line-height:27px;color:#1e3a8a;font-weight:700;letter-spacing:1.0px;transform:translateX(-50%);">CURRENT TOKEN</div>
<div class="t" style="left:2228.5px;top:2180.7px;font-size:27px;line-height:27px;color:#1e3a8a;font-weight:700;letter-spacing:1.0px;transform:translateX(-50%);">COMPLETED</div>
<div class="t" style="left:2636.0px;top:2160.5px;font-size:27px;line-height:27px;color:#1e3a8a;font-weight:700;letter-spacing:1.0px;transform:translateX(-50%);">AVG. TRANSACTION</div>
<div class="t" style="left:2636.0px;top:2201.1px;font-size:27px;line-height:27px;color:#1e3a8a;font-weight:700;letter-spacing:1.0px;transform:translateX(-50%);">TIME</div>
<div class="a" style="left:2830px;top:2256.5px;width:12px;height:40px;background:#dbeafe;"></div>
<div class="a" style="left:1775px;top:2273px;width:101.5px;height:40px;background:#eff6ff;border-radius:8px;"></div>
<div class="a" style="left:2182px;top:2273px;width:80px;height:40px;background:#f0fdf4;border-radius:8px;"></div>
<div class="a" style="left:2547.6px;top:2273px;width:159px;height:40px;background:#eef2ff;border-radius:8px;"></div>
<div class="t" style="left:1021.0px;top:2282.3px;font-size:28px;line-height:28px;color:#1e3a8a;font-weight:700;letter-spacing:-0.5px;">Counter 1</div>
<div class="t" style="left:1825.7px;top:2284.3px;font-size:28px;line-height:28px;color:#1d4ed8;font-weight:700;letter-spacing:1px;transform:translateX(-50%);">A001</div>
<div class="t" style="left:2222.0px;top:2284.3px;font-size:28px;line-height:28px;color:#15803d;font-weight:700;transform:translateX(-50%);">1</div>
<div class="t" style="left:2627.0px;top:2284.3px;font-size:28px;line-height:28px;color:#3730a3;font-weight:700;letter-spacing:1px;transform:translateX(-50%);">00:00:40</div>
<div class="a" style="left:2866px;top:433px;width:916px;height:716px;border:2px solid #dbeafe;border-radius:32px;box-sizing:border-box;background:linear-gradient(160deg,#ffffff 0%,#f3f7fe 40%,#e9f1fe 75%,#dfeafd 100%);box-shadow:0 8px 16px rgba(30,41,59,0.08),-2px 2px 10px rgba(30,41,59,0.04);"></div>
<div class="a" style="left:2907.6px;top:474px;width:64px;height:64px;border-radius:50%;background:linear-gradient(160deg,#dbeafe,#bfdbfe);"></div>
<div class="t" style="left:2989.0px;top:486.7px;font-size:41px;line-height:41px;color:#1e40af;font-weight:700;letter-spacing:-2.1px;">Main Q</div>
<div class="t" style="left:3739.0px;top:494.3px;font-size:24.5px;line-height:24.5px;color:#60a5fa;font-weight:700;letter-spacing:1.0px;transform:translateX(-100%);">TOKEN STATUS</div>
<div class="a" style="left:2908px;top:553.5px;width:832px;height:2px;background:#dbeafe;"></div>
<svg class="a" style="left:3150px;top:600px;" width="350" height="300" viewBox="3150 600 350 300"><path d="M3337.94 754.86 L3337.94 696.36 Q3337.94 680.36 3353.82 682.07 A74.5 74.5 0 0 1 3410.73 738.98 Q3412.44 754.86 3396.44 754.86 Z" fill="#38bdf8" stroke="#ffffff" stroke-width="2" stroke-linejoin="round"/><path d="M3323.80 769.00 L3382.30 769.00 Q3398.30 769.00 3396.59 784.88 A74.5 74.5 0 0 1 3397.12 782.19 Q3392.63 797.51 3377.85 791.39 Z" fill="#22c55e" stroke="#ffffff" stroke-width="2" stroke-linejoin="round"/><path d="M3323.80 769.00 L3377.85 791.39 Q3392.63 797.51 3384.97 811.52 A74.5 74.5 0 0 1 3250.48 755.81 Q3254.97 740.49 3269.75 746.61 Z" fill="#fbbf24" stroke="#ffffff" stroke-width="2" stroke-linejoin="round"/><path d="M3323.80 769.00 L3269.75 746.61 Q3254.97 740.49 3262.63 726.48 A74.5 74.5 0 0 1 3281.28 707.83 Q3295.29 700.17 3301.41 714.95 Z" fill="#f87171" stroke="#ffffff" stroke-width="2" stroke-linejoin="round"/><path d="M3323.80 769.00 L3301.41 714.95 Q3295.29 700.17 3310.61 695.68 A74.5 74.5 0 0 1 3307.92 696.21 Q3323.80 694.50 3323.80 710.50 Z" fill="#6366f1" stroke="#ffffff" stroke-width="2" stroke-linejoin="round"/><g fill="none" stroke-width="2"><polyline points="3288,633 3297.3,633 3309,695" stroke="#6366f1"/><polyline points="3208.5,684 3240,684 3270.4,715" stroke="#f87171"/><polyline points="3429,673 3418,673 3390,702" stroke="#38bdf8"/><polyline points="3397,783 3465.4,794.8 3467,794.8" stroke="#22c55e"/><polyline points="3269.7,823.4 3226.7,864 3218.7,864" stroke="#fbbf24"/></g></svg>
<div class="t" style="left:3266.7px;top:620.6px;font-size:26.5px;line-height:26.5px;color:#334155;font-weight:700;transform:translateX(-100%);">ended: 1</div>
<div class="t" style="left:3187.4px;top:671.2px;font-size:26.5px;line-height:26.5px;color:#334155;font-weight:700;transform:translateX(-100%);">standby: 2</div>
<div class="t" style="left:3450.4px;top:661.3px;font-size:26.5px;line-height:26.5px;color:#334155;font-weight:700;">new: 4</div>
<div class="t" style="left:3486.8px;top:783.6px;font-size:26.5px;line-height:26.5px;color:#334155;font-weight:700;">completed: 1</div>
<div class="t" style="left:3197.0px;top:851.9px;font-size:26.5px;line-height:26.5px;color:#334155;font-weight:700;transform:translateX(-100%);">noshow: 8</div>
<div class="a" style="left:3665px;top:599.6px;width:56px;height:55px;background:#fff;border-radius:4px;"></div><svg class="a" style="left:3665px;top:599.6px;" width="56" height="55" viewBox="3665 599.6 56 55"><g stroke="#666" stroke-width="4.4" stroke-linecap="round"><line x1="3679" y1="617.1" x2="3707" y2="617.1"/><line x1="3679" y1="627.1" x2="3707" y2="627.1"/><line x1="3679" y1="637.1" x2="3707" y2="637.1"/></g></svg>
<div class="a" style="left:3025.3px;top:930.3px;width:25.4px;height:25.4px;border-radius:50%;background:#38bdf8;"></div>
<div class="t" style="left:3065.3px;top:929.2px;font-size:28.5px;line-height:28.5px;color:#334155;font-weight:400;letter-spacing:0.2px;-webkit-text-stroke:0.45px currentColor;">new</div>
<div class="a" style="left:3239.3px;top:930.3px;width:25.4px;height:25.4px;border-radius:50%;background:#22c55e;"></div>
<div class="t" style="left:3279.3px;top:929.2px;font-size:28.5px;line-height:28.5px;color:#334155;font-weight:400;letter-spacing:0.2px;-webkit-text-stroke:0.45px currentColor;">completed</div>
<div class="a" style="left:3453.7000000000003px;top:930.3px;width:25.4px;height:25.4px;border-radius:50%;background:#fbbf24;"></div>
<div class="t" style="left:3493.7px;top:929.2px;font-size:28.5px;line-height:28.5px;color:#334155;font-weight:400;letter-spacing:0.2px;-webkit-text-stroke:0.45px currentColor;">noshow</div>
<div class="a" style="left:3025.3px;top:970.8px;width:25.4px;height:25.4px;border-radius:50%;background:#f87171;"></div>
<div class="t" style="left:3065.3px;top:969.7px;font-size:28.5px;line-height:28.5px;color:#334155;font-weight:400;letter-spacing:0.2px;-webkit-text-stroke:0.45px currentColor;">standby</div>
<div class="a" style="left:3239.3px;top:970.8px;width:25.4px;height:25.4px;border-radius:50%;background:#6366f1;"></div>
<div class="t" style="left:3279.3px;top:969.7px;font-size:28.5px;line-height:28.5px;color:#334155;font-weight:400;letter-spacing:0.2px;-webkit-text-stroke:0.45px currentColor;">ended</div>
<div class="t" style="left:3324.0px;top:1042.5px;font-size:29px;line-height:29px;color:#64748b;font-weight:400;letter-spacing:0.6px;transform:translateX(-50%);">Tokens by Status</div>
<div class="t" style="left:3719.0px;top:1081.3px;font-size:20.5px;line-height:20.5px;color:#999999;font-weight:400;letter-spacing:0.1px;transform:translateX(-100%);">Highcharts.com</div>
<div class="a" style="left:2866px;top:1182px;width:916px;height:296px;background:#f8fafc;border-radius:20px;"></div>
<div class="a" style="left:2882px;top:1190px;width:434px;height:280px;background:linear-gradient(150deg,#eff6ff 0%,#e3edfd 60%,#dbe8fd 100%);border-radius:28px;box-shadow:0 4px 10px rgba(30,41,59,0.08);"></div>
<svg class="a" style="left:3206.5px;top:1224.0px" width="75" height="75" viewBox="0 0 24 24" fill="none" stroke="#bfdbfe" stroke-width="1.4" stroke-linecap="round" stroke-linejoin="round"><path d="M12 6v6h4.5m4.5 0a9 9 0 1 1-18 0 9 9 0 0 1 18 0Z"/></svg>
<div class="t" style="left:3099.0px;top:1247.1px;font-size:32px;line-height:32px;color:#1d4ed8;font-weight:700;letter-spacing:0.5px;transform:translateX(-50%);">AVG. WAITING TIME</div>
<div class="t" style="left:3099.0px;top:1394.3px;font-size:25px;line-height:25px;color:#60a5fa;font-weight:400;letter-spacing:0.35px;transform:translateX(-50%);">Time before being attended</div>
<div class="a" style="left:3332px;top:1190px;width:434px;height:280px;background:linear-gradient(150deg,#effdf4 0%,#e8fbef 60%,#e0f9e8 100%);border-radius:28px;box-shadow:0 4px 10px rgba(30,41,59,0.08);"></div>
<svg class="a" style="left:3656.5px;top:1224.0px" width="75" height="75" viewBox="0 0 24 24" fill="none" stroke="#bbf7d0" stroke-width="1.4" stroke-linecap="round" stroke-linejoin="round"><path d="M12 6v6h4.5m4.5 0a9 9 0 1 1-18 0 9 9 0 0 1 18 0Z"/></svg>
<div class="t" style="left:3549.0px;top:1247.1px;font-size:32px;line-height:32px;color:#15803d;font-weight:700;letter-spacing:0.5px;transform:translateX(-50%);">AVG. TURNAROUND</div>
<div class="t" style="left:3549.0px;top:1394.3px;font-size:25px;line-height:25px;color:#4ade80;font-weight:400;letter-spacing:0.35px;transform:translateX(-50%);">Total process duration</div>
<div class="t" style="left:2970.0px;top:1300.1px;font-size:72.5px;line-height:72.5px;color:#1d4ed8;font-weight:700;letter-spacing:0.5px;transform:scaleX(1.135);transform-origin:0 0;">7044</div>
<div class="t" style="left:3167.5px;top:1318.4px;font-size:38.5px;line-height:38.5px;color:#3b82f6;font-weight:400;letter-spacing:-0.6px;-webkit-text-stroke:0.45px currentColor;">min</div>
<div class="t" style="left:3468.5px;top:1300.1px;font-size:72.5px;line-height:72.5px;color:#15803d;font-weight:700;letter-spacing:0.5px;transform:scaleX(1.07);transform-origin:0 0;">10</div>
<div class="t" style="left:3565.0px;top:1318.4px;font-size:38.5px;line-height:38.5px;color:#22c55e;font-weight:400;letter-spacing:-0.6px;-webkit-text-stroke:0.45px currentColor;">min</div>
<div class="a" style="left:2866px;top:1511px;width:916px;height:900px;border:2px solid #dbeafe;border-radius:32px;box-sizing:border-box;background:linear-gradient(160deg,#ffffff 0%,#f3f7fe 35%,#e9f1fe 70%,#dce9fd 100%);box-shadow:-4px 6px 18px rgba(30,41,59,0.06);"></div>
<div class="a" style="left:2916px;top:1568px;width:80px;height:80px;border-radius:50%;background:linear-gradient(160deg,#c7defd,#a9c8fb);"></div>
<div class="t" style="left:3021.0px;top:1567.5px;font-size:48.5px;line-height:48.5px;color:#1e3a8a;font-weight:700;letter-spacing:-1.9px;">Main Q</div>
<div class="t" style="left:3021.7px;top:1628.8px;font-size:24.5px;line-height:24.5px;color:#60a5fa;font-weight:700;letter-spacing:0.75px;">SERVICE VOLUME</div>
<div class="a" style="left:3429px;top:1584px;width:303px;height:48px;background:#dbeafe;border-radius:24px;box-shadow:0 2px 5px rgba(37,99,235,0.10);"></div>
<svg class="a" style="left:3450px;top:1590px;" width="40" height="32" viewBox="3450 1590 40 32"><g fill="none" stroke="#60a5fa" stroke-width="2.6" stroke-linecap="round"><circle cx="3468.9" cy="1601" r="5.4"/><path d="M3457 1614.5 v-2 a6 6 0 0 1 6 -6 h12 a6 6 0 0 1 6 6 v2"/></g></svg>
<div class="t" style="left:3495.0px;top:1596.5px;font-size:25px;line-height:25px;color:#1d4ed8;font-weight:700;letter-spacing:-0.3px;">Dashboard Report</div>
<div class="a" style="left:2916px;top:1679.5px;width:816px;height:2px;background:#dbeafe;"></div>
<svg class="a" style="left:3150px;top:1730px;" width="600" height="380" viewBox="3150 1730 600 380"><line x1="3178.7" y1="1742" x2="3178.7" y2="2092" stroke="#e2e6ea" stroke-width="2"/><line x1="3267.8" y1="1742" x2="3267.8" y2="2092" stroke="#e2e6ea" stroke-width="2"/><line x1="3356.9" y1="1742" x2="3356.9" y2="2092" stroke="#e2e6ea" stroke-width="2"/><line x1="3445.9" y1="1742" x2="3445.9" y2="2092" stroke="#e2e6ea" stroke-width="2"/><line x1="3535.0" y1="1742" x2="3535.0" y2="2092" stroke="#e2e6ea" stroke-width="2"/><line x1="3624.1" y1="1742" x2="3624.1" y2="2092" stroke="#e2e6ea" stroke-width="2"/><line x1="3713.2" y1="1742" x2="3713.2" y2="2092" stroke="#e2e6ea" stroke-width="2"/><path d="M3178.7 1762 H3610.1166666666663 Q3624.1166666666663 1762 3624.1166666666663 1776 V1796 Q3624.1166666666663 1810 3610.1166666666663 1810 H3178.7 Z" fill="#38bdf8" stroke="#ffffff" stroke-width="2"/><path d="M3178.7 1847.6 H3431.95 Q3445.95 1847.6 3445.95 1861.6 V1881.8 Q3445.95 1895.8 3431.95 1895.8 H3178.7 Z" fill="#22c55e" stroke="#ffffff" stroke-width="2"/><rect x="3178.7" y="1951" width="2" height="20" fill="#fff"/><rect x="3178.7" y="2039" width="2" height="20" fill="#fff"/></svg>
<div class="a" style="left:3657.4px;top:1732.7px;width:56px;height:55px;background:#fff;border-radius:4px;"></div><svg class="a" style="left:3657.4px;top:1732.7px;" width="56" height="55" viewBox="3657.4 1732.7 56 55"><g stroke="#666" stroke-width="4.4" stroke-linecap="round"><line x1="3671.4" y1="1750.2" x2="3699.4" y2="1750.2"/><line x1="3671.4" y1="1760.2" x2="3699.4" y2="1760.2"/><line x1="3671.4" y1="1770.2" x2="3699.4" y2="1770.2"/></g></svg>
<div class="t" style="left:3147.2px;top:1773.2px;font-size:27.5px;line-height:27.5px;color:#334155;font-weight:400;letter-spacing:0.3px;transform:translateX(-100%);-webkit-text-stroke:0.45px currentColor;">New Registration</div>
<div class="t" style="left:3147.2px;top:1860.4px;font-size:27.5px;line-height:27.5px;color:#334155;font-weight:400;letter-spacing:0.3px;transform:translateX(-100%);-webkit-text-stroke:0.45px currentColor;">Consultation</div>
<div class="t" style="left:3147.2px;top:1948.4px;font-size:27.5px;line-height:27.5px;color:#334155;font-weight:400;letter-spacing:0.3px;transform:translateX(-100%);-webkit-text-stroke:0.45px currentColor;">Wound Dressing</div>
<div class="t" style="left:3147.2px;top:2035.2px;font-size:27.5px;line-height:27.5px;color:#334155;font-weight:400;letter-spacing:0.3px;transform:translateX(-100%);-webkit-text-stroke:0.45px currentColor;">Minor Procedure</div>
<div class="t" style="left:3634.8px;top:1773.2px;font-size:27.5px;line-height:27.5px;color:#2563eb;font-weight:700;">10</div>
<div class="t" style="left:3456.6px;top:1860.4px;font-size:27.5px;line-height:27.5px;color:#2563eb;font-weight:700;">6</div>
<div class="t" style="left:3191.0px;top:1948.4px;font-size:27.5px;line-height:27.5px;color:#2563eb;font-weight:700;">0</div>
<div class="t" style="left:3191.0px;top:2035.2px;font-size:27.5px;line-height:27.5px;color:#2563eb;font-weight:700;">0</div>
<div class="t" style="left:3177.7px;top:2126.6px;font-size:25px;line-height:25px;color:#64748b;font-weight:400;transform:translateX(-50%);">0</div>
<div class="t" style="left:3266.8px;top:2126.6px;font-size:25px;line-height:25px;color:#64748b;font-weight:400;transform:translateX(-50%);">2</div>
<div class="t" style="left:3355.9px;top:2126.6px;font-size:25px;line-height:25px;color:#64748b;font-weight:400;transform:translateX(-50%);">4</div>
<div class="t" style="left:3444.9px;top:2126.6px;font-size:25px;line-height:25px;color:#64748b;font-weight:400;transform:translateX(-50%);">6</div>
<div class="t" style="left:3534.0px;top:2126.6px;font-size:25px;line-height:25px;color:#64748b;font-weight:400;transform:translateX(-50%);">8</div>
<div class="t" style="left:3623.1px;top:2126.6px;font-size:25px;line-height:25px;color:#64748b;font-weight:400;transform:translateX(-50%);">10</div>
<div class="t" style="left:3697.3px;top:2126.6px;font-size:25px;line-height:25px;color:#64748b;font-weight:400;transform:translateX(-50%);">12</div>
<div class="t" style="left:3710.3px;top:2166.1px;font-size:29px;line-height:29px;color:#1e293b;font-weight:700;transform:translateX(-100%);">Tokens Handled</div>
<div class="t" style="left:3324.0px;top:2225.0px;font-size:29.5px;line-height:29.5px;color:#64748b;font-weight:400;letter-spacing:1.25px;transform:translateX(-50%);">Service Volume by Service</div>
<div class="a" style="left:3777.6px;top:701.4px;width:68.1px;height:377px;background:#1d4ed8;border-radius:14px 0 0 14px;"></div>
<svg class="a" style="left:3795px;top:742px;" width="46" height="46" viewBox="3795 742 46 46"><g fill="#fff"><rect x="3813.0" y="749.6999999999999" width="9.2" height="8" rx="2.6" transform="rotate(30 3817.6 765.3)"/><rect x="3813.0" y="749.6999999999999" width="9.2" height="8" rx="2.6" transform="rotate(90 3817.6 765.3)"/><rect x="3813.0" y="749.6999999999999" width="9.2" height="8" rx="2.6" transform="rotate(150 3817.6 765.3)"/><rect x="3813.0" y="749.6999999999999" width="9.2" height="8" rx="2.6" transform="rotate(210 3817.6 765.3)"/><rect x="3813.0" y="749.6999999999999" width="9.2" height="8" rx="2.6" transform="rotate(270 3817.6 765.3)"/><rect x="3813.0" y="749.6999999999999" width="9.2" height="8" rx="2.6" transform="rotate(330 3817.6 765.3)"/><circle cx="3817.6" cy="765.3" r="11.3"/></g><circle cx="3817.6" cy="765.3" r="4.9" fill="#1d4ed8"/></svg>
<div class="t" style="left:3818.5px;top:917.5px;font-size:30px;line-height:30px;color:#fff;font-weight:700;transform:translate(-50%,-50%) rotate(-90deg);letter-spacing:0.4px;">Configurations</div>
</div></div>
</body></html>
